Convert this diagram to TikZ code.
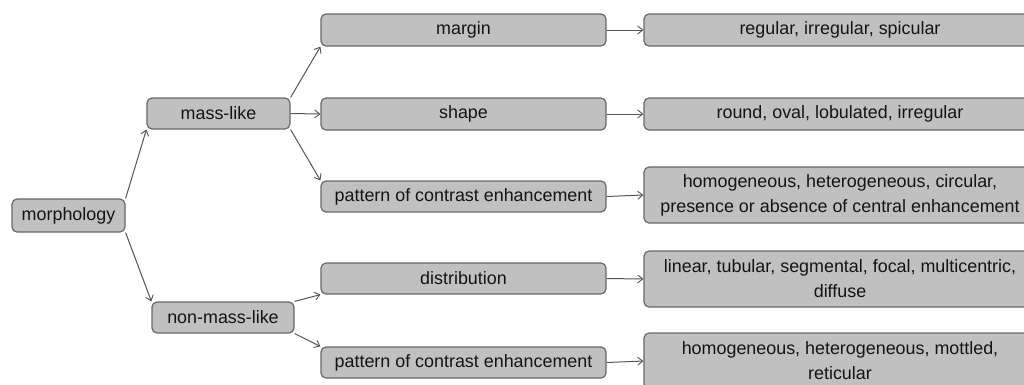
\documentclass[tikz,border=0pt]{standalone}
\usepackage{fontspec}
\setmainfont{Liberation Sans}
\usetikzlibrary{arrows.meta}
\definecolor{boxfill}{HTML}{C0C0C0}
\definecolor{boxline}{HTML}{686868}
\definecolor{linkcol}{HTML}{555555}
\definecolor{txt}{HTML}{141414}
\tikzset{
  box/.style={draw=boxline, fill=boxfill, line width=1.2pt, rounded corners=5pt,
    inner sep=0pt, align=center, text=txt,
    font=\fontsize{17.9}{25}\selectfont},
  link/.style={draw=linkcol, line width=1pt,
    -{Straight Barb[length=5pt,width=8pt,line width=0.9pt]}},
}
\begin{document}
\begin{tikzpicture}[x=1pt,y=-1pt]
  \useasboundingbox (0,0) rectangle (1024,384);
  \clip (0,0) rectangle (1024,384);
  % root and the two groups
  \node[box, minimum width=113pt, minimum height=33pt] (morph) at (68.5,215.5) {morphology};
  \node[box, minimum width=143pt, minimum height=31pt] (mass) at (218.5,113.5) {mass-like};
  \node[box, minimum width=142pt, minimum height=31pt] (nonmass) at (223,317.5) {non-mass-like};
  % features
  \node[box, minimum width=285pt, minimum height=32pt] (margin) at (463.5,30) {margin};
  \node[box, minimum width=285pt, minimum height=32pt] (shape) at (463.5,114) {shape};
  \node[box, minimum width=285pt, minimum height=31pt] (patA) at (463.5,196.5) {pattern of contrast enhancement};
  \node[box, minimum width=285pt, minimum height=31pt] (distr) at (463.5,278.5) {distribution};
  \node[box, minimum width=285pt, minimum height=31pt] (patB) at (463.5,362.5) {pattern of contrast enhancement};
  % descriptors
  \node[box, minimum width=392pt, minimum height=32pt] (dMargin) at (840,30) {regular, irregular, spicular};
  \node[box, minimum width=392pt, minimum height=32pt] (dShape) at (840,114) {round, oval, lobulated, irregular};
  \node[box, minimum width=392pt, minimum height=56pt] (dPatA) at (840,195) {homogeneous, heterogeneous, circular,\\presence or absence of central enhancement};
  \node[box, minimum width=392pt, minimum height=56pt] (dDistr) at (840,279) {linear, tubular, segmental, focal, multicentric,\\diffuse};
  \node[box, minimum width=392pt, minimum height=56pt] (dPatB) at (840,361) {homogeneous, heterogeneous, mottled,\\reticular};
  % connectors
  \draw[link] (morph.north east) -- (mass.south west);
  \draw[link] (morph.south east) -- (nonmass.north west);
  \draw[link] (mass.north east) -- (margin.south west);
  \draw[link] (mass.east) -- (shape.west);
  \draw[link] (mass.south east) -- (patA.north west);
  \draw[link] (nonmass.north east) -- (distr.south west);
  \draw[link] (nonmass.south east) -- (patB.north west);
  \draw[link] (margin.east) -- (dMargin.west);
  \draw[link] (shape.east) -- (dShape.west);
  \draw[link] (patA.east) -- (dPatA.west);
  \draw[link] (distr.east) -- (dDistr.west);
  \draw[link] (patB.east) -- (dPatB.west);
\end{tikzpicture}
\end{document}
